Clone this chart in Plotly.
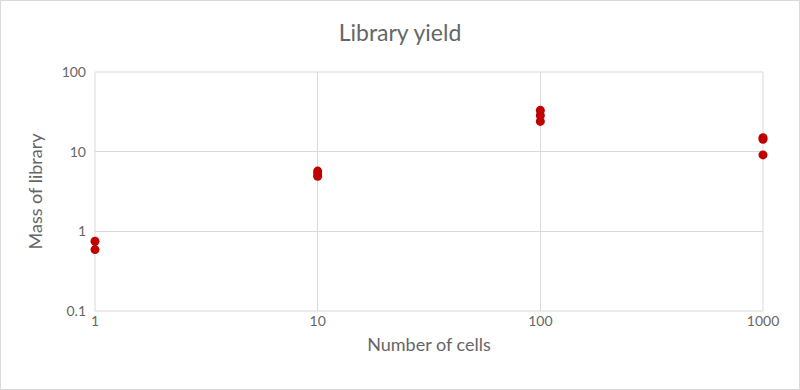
import plotly.graph_objects as go

# Data
cells = [1, 1, 10, 10, 10, 100, 100, 100, 1000, 1000, 1000]
mass = [0.75, 0.59, 5.7, 5.3, 4.9, 33, 28.5, 24, 15, 14.3, 9.1]

x_tickvals = [1, 10, 100, 1000]
x_ticktext = ["1", "10", "100", "1000"]
y_tickvals = [0.1, 1, 10, 100]
y_ticktext = ["0.1", "1", "10", "100"]

W, H = 800, 390
ml, mr, mt, mb = 95, 37, 72, 79
pw, ph = W - ml - mr, H - mt - mb

font_family = "Lato, 'Noto Sans', sans-serif"
grey_text = "#666666"
grid = "#D9D9D9"

fig = go.Figure(
    go.Scatter(
        x=cells, y=mass, mode="markers", cliponaxis=False,
        marker=dict(color="#C00000", size=9, line=dict(width=0)),
        showlegend=False,
    )
)

edge = dict(xref="paper", yref="paper", type="line", line=dict(color=grid, width=1), layer="below")

fig.update_layout(
    width=W, height=H,
    margin=dict(l=ml, r=mr, t=mt, b=mb, pad=0),
    paper_bgcolor="white", plot_bgcolor="white",
    font=dict(family=font_family, color=grey_text, size=14),
    title=dict(text="Library yield", x=0.5, xanchor="center", y=1 - 33 / H, yanchor="middle",
               font=dict(size=23, color=grey_text, family=font_family)),
    xaxis=dict(
        type="log", range=[0, 3],
        tickvals=x_tickvals, ticktext=x_ticktext,
        showgrid=True, gridcolor=grid, gridwidth=1,
        showline=False, zeroline=False, ticks="",
        tickfont=dict(size=14, color=grey_text),
        title=dict(text="Number of cells", font=dict(size=18, color=grey_text), standoff=10),
    ),
    yaxis=dict(
        type="log", range=[-1, 2],
        tickvals=y_tickvals, ticktext=y_ticktext,
        showgrid=True, gridcolor=grid, gridwidth=1,
        showline=False, zeroline=False, ticks="",
        tickfont=dict(size=14, color=grey_text),
        ticklabelstandoff=8,
        title=dict(text="Mass of library", font=dict(size=18, color=grey_text), standoff=14),
    ),
    shapes=[
        dict(type="rect", xref="paper", yref="paper",
             x0=(-ml + 0.5) / pw, x1=(W - ml - 0.5) / pw,
             y0=(-mb + 0.5) / ph, y1=(H - mb - 0.5) / ph,
             line=dict(color=grid, width=1), fillcolor="rgba(0,0,0,0)", layer="below"),
        dict(edge, x0=0, x1=0, y0=0, y1=1),
        dict(edge, x0=1, x1=1, y0=0, y1=1),
        dict(edge, x0=0, x1=1, y0=0, y1=0),
        dict(edge, x0=0, x1=1, y0=1, y1=1),
    ],
)

fig.write_html("out.html")
